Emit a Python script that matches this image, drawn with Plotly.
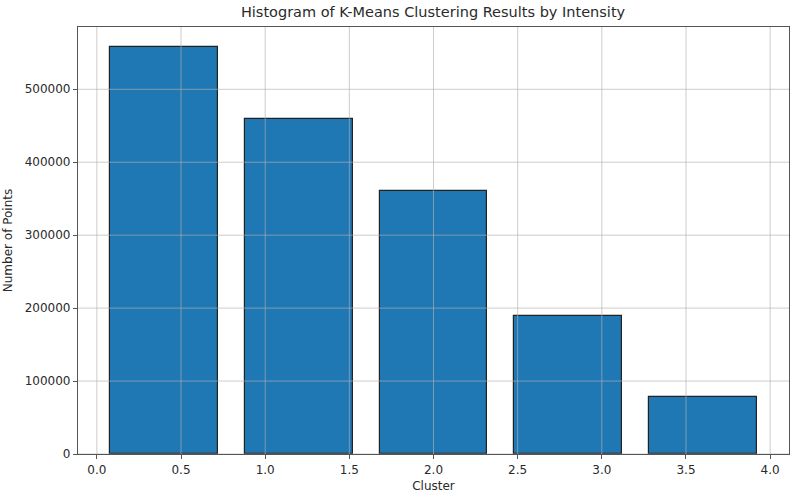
import plotly.graph_objects as go

# Data
bin_centers = [0.4, 1.2, 2.0, 2.8, 3.6]
counts = [557500, 459000, 360500, 189000, 78000]
bar_width = 0.64
x_ticks = [0.0, 0.5, 1.0, 1.5, 2.0, 2.5, 3.0, 3.5, 4.0]
x_tick_labels = ["0.0", "0.5", "1.0", "1.5", "2.0", "2.5", "3.0", "3.5", "4.0"]
y_ticks = [0, 100000, 200000, 300000, 400000, 500000]
y_tick_labels = ["0", "100000", "200000", "300000", "400000", "500000"]

x_range = [-0.112, 4.112]
y_range = [0, 585400]

font_family = "DejaVu Sans"
text_color = "#2a2a2a"
grid_color = "rgba(176,176,176,0.65)"

fig = go.Figure()
fig.add_trace(go.Bar(
    x=bin_centers,
    y=counts,
    width=bar_width,
    marker=dict(color="#1f77b4", line=dict(color="#222222", width=1.2)),
    showlegend=False,
))

shapes = []
for xv in x_ticks:
    shapes.append(dict(type="line", xref="x", yref="paper", x0=xv, x1=xv, y0=0, y1=1,
                       line=dict(color=grid_color, width=1), layer="above"))
for yv in y_ticks:
    shapes.append(dict(type="line", xref="paper", yref="y", x0=0, x1=1, y0=yv, y1=yv,
                       line=dict(color=grid_color, width=1), layer="above"))

fig.update_layout(
    width=795, height=498,
    margin=dict(l=78, r=6, t=27, b=44),
    paper_bgcolor="white", plot_bgcolor="white",
    font=dict(family=font_family, size=12, color=text_color),
    title=dict(text="Histogram of K-Means Clustering Results by Intensity",
               x=0.5447, xanchor="center", y=0.976, yanchor="middle",
               font=dict(family=font_family, size=14.5, color=text_color)),
    shapes=shapes,
    bargap=0,
)
fig.update_xaxes(
    range=x_range, tickmode="array", tickvals=x_ticks, ticktext=x_tick_labels,
    showgrid=False, zeroline=False, showline=True, linecolor="#555555", linewidth=1.2,
    mirror=True, ticks="outside", ticklen=4, tickcolor="#555555",
    title=dict(text="Cluster", font=dict(size=12), standoff=6),
)
fig.update_yaxes(
    range=y_range, tickmode="array", tickvals=y_ticks, ticktext=y_tick_labels,
    showgrid=False, zeroline=False, showline=True, linecolor="#555555", linewidth=1.2,
    mirror=True, ticks="outside", ticklen=4, tickcolor="#555555",
    title=dict(text="Number of Points", font=dict(size=12), standoff=9),
)

fig.write_html("out.html", config={"displayModeBar": False},
               post_script="document.body.style.margin='0';")
